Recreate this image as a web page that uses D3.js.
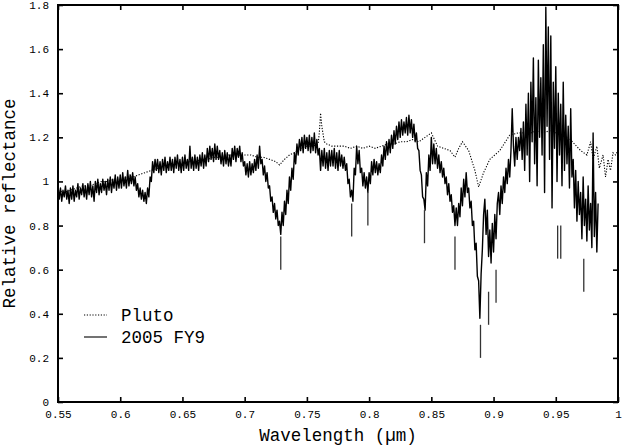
<!DOCTYPE html>
<html><head><meta charset="utf-8">
<script src="https://cdn.jsdelivr.net/npm/d3@7"></script>
<style>
html,body{margin:0;padding:0;background:#fff;}
svg{display:block;}
text{font-family:"Liberation Mono","DejaVu Sans Mono",monospace;fill:#000;}
</style></head>
<body>
<svg id="chart" width="625" height="445"></svg>
<script>
// ---- data ----
const xTickValues = [0.55,0.6,0.65,0.7,0.75,0.8,0.85,0.9,0.95,1.0];
const xTickLabels = ["0.55","0.6","0.65","0.7","0.75","0.8","0.85","0.9","0.95","1"];
const yTickValues = [0,0.2,0.4,0.6,0.8,1.0,1.2,1.4,1.6,1.8];
const yTickLabels = ["0","0.2","0.4","0.6","0.8","1","1.2","1.4","1.6","1.8"];

// 2005 FY9 spectrum, sampled every 0.001 µm from 0.550 µm
const fy9Start = 0.550, fy9Step = 0.001;
const fy9Values = [
0.98,0.92,0.97,0.91,0.96,0.93,0.98,0.92,0.96,0.90,
0.97,0.92,0.98,0.91,0.96,0.93,0.99,0.92,0.97,0.94,
0.99,0.93,0.98,0.92,0.99,0.94,1.00,0.93,0.98,0.91,
1.00,0.95,1.01,0.94,0.99,0.95,1.01,0.96,1.00,0.94,
1.01,0.96,1.02,0.95,1.01,0.97,1.03,0.96,1.02,0.97,
1.03,0.97,1.04,0.98,1.02,0.97,1.05,0.98,1.03,0.99,
1.04,0.98,1.02,0.96,0.99,0.93,0.97,0.92,0.96,0.91,
0.95,0.90,0.97,0.93,1.02,1.00,1.09,1.04,1.10,1.05,
1.10,1.04,1.09,1.03,1.10,1.05,1.11,1.04,1.09,1.05,
1.11,1.05,1.10,1.04,1.11,1.06,1.12,1.05,1.10,1.04,
1.11,1.05,1.12,1.06,1.10,1.05,1.16,1.06,1.11,1.05,
1.12,1.06,1.11,1.05,1.12,1.07,1.13,1.06,1.12,1.07,
1.15,1.09,1.16,1.10,1.15,1.09,1.17,1.10,1.16,1.10,
1.14,1.08,1.13,1.07,1.14,1.08,1.13,1.07,1.12,1.07,
1.15,1.10,1.16,1.09,1.15,1.11,1.16,1.09,1.13,1.07,
1.09,1.03,1.08,1.02,1.09,1.03,1.08,1.04,1.10,1.05,
1.12,1.06,1.16,1.08,1.10,1.03,1.07,1.00,1.04,0.97,
0.98,0.91,0.93,0.86,0.90,0.83,0.87,0.80,0.82,0.76,
0.86,0.80,0.91,0.85,0.96,0.90,1.02,0.96,1.06,1.01,
1.13,1.08,1.17,1.12,1.19,1.14,1.20,1.13,1.21,1.15,
1.20,1.14,1.21,1.13,1.20,1.14,1.22,1.13,1.19,1.12,
1.15,1.05,1.14,1.07,1.15,1.06,1.13,1.05,1.14,1.07,
1.14,1.07,1.15,1.06,1.13,1.05,1.14,1.07,1.12,1.06,
1.11,1.05,1.08,0.99,1.01,0.93,0.96,0.91,1.06,1.03,
1.16,1.08,1.14,1.04,1.06,0.98,1.04,0.97,1.02,0.95,
1.04,0.99,1.09,1.03,1.10,1.04,1.09,1.03,1.08,1.04,
1.12,1.07,1.16,1.10,1.18,1.12,1.19,1.13,1.21,1.15,
1.23,1.17,1.25,1.19,1.27,1.20,1.28,1.21,1.27,1.22,
1.29,1.21,1.30,1.22,1.28,1.20,1.26,1.18,1.22,1.15,
1.14,1.05,1.03,0.93,0.92,0.87,1.04,0.98,1.12,1.05,
1.20,1.08,1.17,1.08,1.15,1.06,1.12,1.04,1.09,1.02,
1.06,0.99,1.02,0.94,0.99,0.91,0.94,0.86,0.89,0.80,
0.88,0.80,0.90,0.84,0.97,0.89,1.01,0.93,1.04,0.95,
0.97,0.88,0.91,0.80,0.82,0.69,0.72,0.57,0.55,0.38,
0.58,0.69,0.85,0.92,0.76,0.87,0.66,0.78,0.63,0.81,
0.68,0.85,0.74,0.90,0.95,0.85,0.98,0.90,1.02,0.95,
1.06,0.99,1.10,1.02,1.14,1.33,1.16,1.07,1.20,1.10,
1.20,1.14,1.24,1.10,1.27,1.05,1.35,1.12,1.40,1.00,
1.45,1.18,1.56,1.08,1.38,0.98,1.55,1.20,1.47,1.12,
1.62,0.95,1.79,1.25,1.70,1.10,1.66,0.88,1.45,1.15,
1.52,1.00,1.40,1.12,1.35,0.98,1.45,1.05,1.30,1.08,
1.25,0.97,1.33,1.02,1.10,0.88,1.05,0.82,1.00,0.85,
0.95,0.74,1.02,0.80,0.92,0.73,0.98,0.78,0.90,0.70,
1.22,0.75,0.95,0.68,0.90
];

// Isolated low points of 2005 FY9 (drawn as vertical bars): wavelength, top, bottom
const spikeWave   = [0.729,0.786,0.799,0.8445,0.869,0.8895,0.896,0.902,0.9515,0.954,0.9725];
const spikeTop    = [0.75, 0.90, 0.95, 0.87,  0.75, 0.35,  0.50, 0.60, 0.80,  0.80, 0.65];
const spikeBottom = [0.60, 0.75, 0.80, 0.72,  0.60, 0.20,  0.35, 0.45, 0.65,  0.65, 0.50];

// Pluto spectrum
const plutoWave = [0.550,0.555,0.560,0.565,0.570,0.575,0.580,0.585,0.590,0.595,0.600,0.605,0.610,0.615,0.620,0.625,0.630,0.635,0.640,0.645,0.650,0.655,0.660,0.665,0.670,0.675,0.680,0.685,0.690,0.695,0.700,0.705,0.710,0.715,0.720,0.725,0.728,0.732,0.736,0.740,0.745,0.750,0.755,0.759,0.760,0.761,0.762,0.764,0.766,0.770,0.775,0.780,0.785,0.790,0.795,0.800,0.805,0.810,0.815,0.820,0.825,0.830,0.835,0.840,0.845,0.850,0.855,0.860,0.865,0.869,0.872,0.875,0.880,0.885,0.888,0.892,0.897,0.905,0.913,0.920,0.925,0.930,0.935,0.940,0.945,0.950,0.955,0.960,0.965,0.970,0.975,0.978,0.980,0.983,0.985,0.988,0.990,0.992,0.994,0.996,0.998,1.000];
const plutoValues = [0.96,0.95,0.96,0.97,0.98,0.98,0.99,1.00,1.00,1.01,1.01,1.02,1.02,1.03,1.04,1.05,1.06,1.07,1.07,1.08,1.08,1.09,1.09,1.10,1.10,1.11,1.11,1.12,1.12,1.12,1.12,1.12,1.11,1.11,1.10,1.09,1.075,1.10,1.12,1.13,1.15,1.16,1.16,1.17,1.22,1.31,1.25,1.18,1.17,1.16,1.16,1.16,1.15,1.16,1.15,1.16,1.15,1.16,1.17,1.17,1.18,1.18,1.19,1.18,1.20,1.22,1.16,1.15,1.14,1.11,1.15,1.18,1.14,1.05,0.975,1.04,1.10,1.14,1.21,1.22,1.22,1.22,1.23,1.22,1.23,1.22,1.21,1.20,1.17,1.14,1.12,1.18,1.10,1.16,1.06,1.12,1.02,1.10,1.05,1.13,1.12,1.14];

const legendNames = ["Pluto","2005 FY9"];

// ---- layout ----
const svg = d3.select("#chart");
const L = 58, R = 618, T = 5, B = 402;
const x = d3.scaleLinear().domain([0.55,1.0]).range([L,R]);
const y = d3.scaleLinear().domain([0,1.8]).range([B,T]);

svg.append("defs").append("clipPath").attr("id","clip")
  .append("rect").attr("x",L).attr("y",T).attr("width",R-L).attr("height",B-T);

const plot = svg.append("g").attr("clip-path","url(#clip)");

const pluto = plutoWave.map((w,i)=>[w,plutoValues[i]]);
const fy9 = fy9Values.map((v,i)=>[fy9Start + i*fy9Step, v]);
const line = d3.line().x(d=>x(d[0])).y(d=>y(d[1]));

plot.append("path").datum(pluto).attr("d",line)
  .attr("fill","none").attr("stroke","#000").attr("stroke-width",1.1)
  .attr("stroke-dasharray","1.2,1.6");

plot.append("path").datum(fy9).attr("d",line)
  .attr("fill","none").attr("stroke","#000").attr("stroke-width",1.4)
  .attr("stroke-linejoin","round");

plot.selectAll("line.spike").data(spikeWave).enter().append("line")
  .attr("class","spike")
  .attr("x1",d=>x(d)).attr("x2",d=>x(d))
  .attr("y1",(d,i)=>y(spikeTop[i])).attr("y2",(d,i)=>y(spikeBottom[i]))
  .attr("stroke","#333").attr("stroke-width",1.3);

// axes: ticks inward on all four sides
const tickLen = 5;
const axB = d3.axisBottom(x).tickValues(xTickValues).tickSize(-tickLen).tickPadding(8)
  .tickFormat((d,i)=>xTickLabels[i]);
const axT = d3.axisTop(x).tickValues(xTickValues).tickSize(-tickLen).tickFormat("");
const axL = d3.axisLeft(y).tickValues(yTickValues).tickSize(-tickLen).tickPadding(9)
  .tickFormat((d,i)=>yTickLabels[i]);
const axR = d3.axisRight(y).tickValues(yTickValues).tickSize(-tickLen).tickFormat("");

function style(g){
  g.select(".domain").remove();
  g.selectAll(".tick line").attr("stroke","#000").attr("stroke-width",1.6);
  g.selectAll("text").attr("font-size","11px")
    .style("font-family","'Liberation Mono','DejaVu Sans Mono',monospace");
}
svg.append("g").attr("transform",`translate(0,${B})`).call(axB).call(style);
svg.append("g").attr("transform",`translate(0,${T})`).call(axT).call(style);
svg.append("g").attr("transform",`translate(${L},0)`).call(axL).call(style);
svg.append("g").attr("transform",`translate(${R},0)`).call(axR).call(style);

svg.append("rect").attr("x",L).attr("y",T).attr("width",R-L).attr("height",B-T)
  .attr("fill","none").attr("stroke","#000").attr("stroke-width",2);

// axis titles
svg.append("text").attr("x",(L+R)/2).attr("y",441).attr("text-anchor","middle")
  .attr("font-size","17.5px").text("Wavelength (µm)");
svg.append("text").attr("transform",`translate(15,${(T+B)/2}) rotate(-90)`)
  .attr("text-anchor","middle").attr("font-size","17.5px").text("Relative reflectance");

// legend
const leg = svg.append("g");
leg.append("line").attr("x1",84).attr("x2",107).attr("y1",315).attr("y2",315)
  .attr("stroke","#000").attr("stroke-width",1.1).attr("stroke-dasharray","1.2,1.6");
leg.append("line").attr("x1",84).attr("x2",107).attr("y1",337).attr("y2",337)
  .attr("stroke","#000").attr("stroke-width",1.1);
leg.append("text").attr("x",121).attr("y",321).attr("font-size","17.5px").text(legendNames[0]);
leg.append("text").attr("x",121).attr("y",343).attr("font-size","17.5px").text(legendNames[1]);
</script>
</body></html>
